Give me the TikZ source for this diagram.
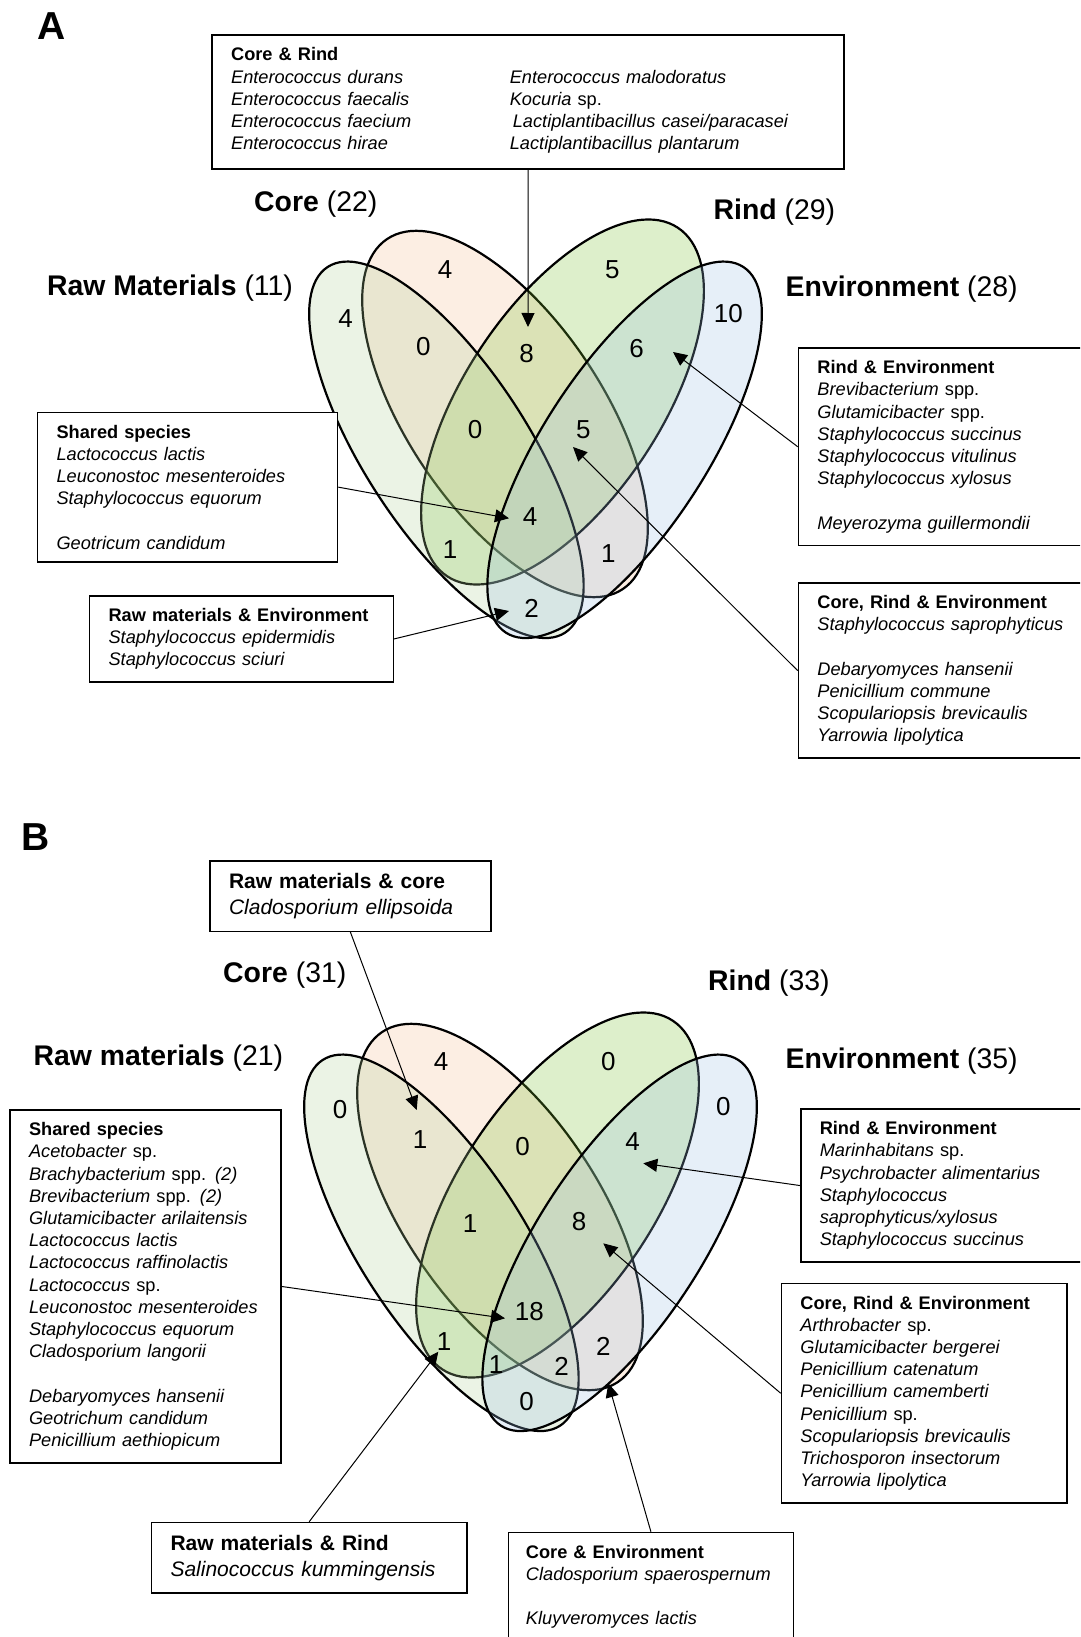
\documentclass[tikz,border=0pt]{standalone}
\usepackage{fontspec}
\setmainfont{Liberation Sans}
\usetikzlibrary{arrows.meta}

\definecolor{rawfill}{RGB}{175,207,151}
\definecolor{corefill}{RGB}{243,187,143}
\definecolor{rindfill}{RGB}{119,191,47}
\definecolor{envfill}{RGB}{155,191,227}

\newcommand{\vennbox}{\fontsize{18.2}{22.2}\selectfont}
\newcommand{\vennbigbox}{\fontsize{21}{26}\selectfont}
\newcommand{\vennlab}{\fontsize{28.4}{34}\selectfont}
\newcommand{\vennnum}{\fontsize{26}{30}\selectfont}
\newcommand{\vennpanel}{\fontsize{39}{44}\selectfont\bfseries}

\tikzset{
  venn/.style={draw=black, line width=2.2pt, fill opacity=0.25},
  listbox/.style={draw, line width=1.5pt, fill=white, align=left, anchor=north west,
    inner xsep=19pt, inner ysep=12.5pt, font=\vennbox},
  regnum/.style={font=\vennnum, inner sep=1pt},
  setname/.style={font=\vennlab, anchor=base west, inner sep=0pt},
  panel/.style={font=\vennpanel, anchor=base, inner sep=0pt},
  pointer/.style={line width=1pt, -{Triangle[length=14pt,width=13pt]}},
}

\begin{document}
\begin{tikzpicture}[x=1pt,y=-1pt]
    \useasboundingbox (0,0) rectangle (1080,1637);
    \clip (0,0) rectangle (1080,1637);

    % ---------- panel A ----------
    \node[panel] (lblA) at (52,40) {A};

    \draw[venn, fill=corefill, rotate around={-56:(505,414)}] (505,414) ellipse (211 and 97);
    \draw[venn, fill=rindfill, rotate around={56.5:(562.5,402)}] (562.5,402) ellipse (209 and 98);
    \draw[venn, fill=rawfill, rotate around={-57:(446.4,449.8)}] (446.4,449.8) ellipse (218 and 82);
    \draw[venn, fill=envfill, rotate around={57:(624.6,449.8)}] (624.6,449.8) ellipse (218 and 82);

    \node[setname] (coreA) at (254,212) {\textbf{Core} (22)};
    \node[setname] (rindA) at (713.4,220) {\textbf{Rind} (29)};
    \node[setname] (rawA) at (47,295) {\textbf{Raw Materials} (11)};
    \node[setname] (envA) at (785.5,296) {\textbf{Environment} (28)};

    \node[regnum] (a-r) at (345.7,318.3) {4};
    \node[regnum] (a-c) at (445,270) {4};
    \node[regnum] (a-i) at (612.3,270) {5};
    \node[regnum] (a-e) at (728.3,313.3) {10};
    \node[regnum] (a-rc) at (423.3,346.7) {0};
    \node[regnum] (a-ci) at (526.7,353.3) {8};
    \node[regnum] (a-ie) at (636.7,348.3) {6};
    \node[regnum] (a-rci) at (475,430) {0};
    \node[regnum] (a-cie) at (583.3,430) {5};
    \node[regnum] (a-all) at (530,516.7) {4};
    \node[regnum] (a-ri) at (450,550) {1};
    \node[regnum] (a-ce) at (608.3,553.3) {1};
    \node[regnum] (a-re) at (531.7,608.3) {2};

    \node[listbox, text width=594pt] (crA) at (211.4,34.5) {\textbf{Core \& Rind}\\
      \begin{tabular}[t]{@{}p{278.7pt}@{}l@{}}
      \textit{Enterococcus durans} & \textit{Enterococcus malodoratus}\\
      \textit{Enterococcus faecalis} & \textit{Kocuria} sp.\\
      \textit{Enterococcus faecium} & \hspace{3pt}\textit{Lactiplantibacillus casei/paracasei}\\
      \textit{Enterococcus hirae} & \textit{Lactiplantibacillus plantarum}
      \end{tabular}};
    \node[listbox, text width=262pt] (shA) at (36.8,411.7) {\textbf{Shared species}\\
      \textit{Lactococcus lactis}\\ \textit{Leuconostoc mesenteroides}\\
      \textit{Staphylococcus equorum}\\[22.2pt] \textit{Geotricum candidum}};
    \node[listbox, text width=265.8pt] (reA) at (88.8,595) {\textbf{Raw materials \& Environment}\\
      \textit{Staphylococcus epidermidis}\\ \textit{Staphylococcus sciuri}};
    \node[listbox, text width=290pt] (rindenvA) at (797.7,347.3) {\textbf{Rind \& Environment}\\
      \textit{Brevibacterium} spp.\\ \textit{Glutamicibacter} spp.\\
      \textit{Staphylococcus succinus}\\ \textit{Staphylococcus vitulinus}\\
      \textit{Staphylococcus xylosus}\\[22.2pt] \textit{Meyerozyma guillermondii}};
    \node[listbox, text width=290pt] (crenvA) at (797.7,582.3) {\textbf{Core, Rind \& Environment}\\
      \textit{Staphylococcus saprophyticus}\\[22.2pt]
      \textit{Debaryomyces hansenii}\\ \textit{Penicillium commune}\\
      \textit{Scopulariopsis brevicaulis}\\ \textit{Yarrowia lipolytica}};

    \coordinate (tipA8) at (528,327);
    \coordinate (tipA6) at (673,352);
    \coordinate (tipA5) at (573,447);
    \coordinate (tipA4) at (509,518.3);
    \coordinate (tipA2) at (509,611);
    \draw[pointer] (crA.south) -- (tipA8);
    \draw[pointer] (rindenvA.west) -- (tipA6);
    \draw[pointer] (crenvA.west) -- (tipA5);
    \draw[pointer] (shA.east) -- (tipA4);
    \draw[pointer] (reA.east) -- (tipA2);

    % ---------- panel B ----------
    \node[panel] (lblB) at (35.5,850) {B};

    \begin{scope}[shift={(-5,793)}]
    \draw[venn, fill=corefill, rotate around={-56:(505,414)}] (505,414) ellipse (211 and 97);
    \draw[venn, fill=rindfill, rotate around={56.5:(562.5,402)}] (562.5,402) ellipse (209 and 98);
    \draw[venn, fill=rawfill, rotate around={-57:(446.4,449.8)}] (446.4,449.8) ellipse (218 and 82);
    \draw[venn, fill=envfill, rotate around={57:(624.6,449.8)}] (624.6,449.8) ellipse (218 and 82);
    \end{scope}

    \node[setname] (coreB) at (223,982) {\textbf{Core} (31)};
    \node[setname] (rindB) at (708,990) {\textbf{Rind} (33)};
    \node[setname] (rawB) at (33.5,1065) {\textbf{Raw materials} (21)};
    \node[setname] (envB) at (785.5,1068) {\textbf{Environment} (35)};

    \node[regnum] (b-r) at (340,1110) {0};
    \node[regnum] (b-c) at (441,1061.7) {4};
    \node[regnum] (b-i) at (608.3,1061.7) {0};
    \node[regnum] (b-e) at (723.3,1106.7) {0};
    \node[regnum] (b-rc) at (420,1140) {1};
    \node[regnum] (b-ci) at (522.7,1146.7) {0};
    \node[regnum] (b-ie) at (632.7,1141.7) {4};
    \node[regnum] (b-rci) at (470,1223.3) {1};
    \node[regnum] (b-cie) at (579,1221.7) {8};
    \node[regnum] (b-all) at (529.3,1311.7) {18};
    \node[regnum] (b-ri) at (444,1341.7) {1};
    \node[regnum] (b-rie) at (496,1365) {1};
    \node[regnum] (b-rce) at (561.7,1366.7) {2};
    \node[regnum] (b-ce) at (603.3,1346.7) {2};
    \node[regnum] (b-re) at (526.7,1401.7) {0};

    \node[listbox, font=\vennbigbox, text width=242.7pt] (rcB) at (209.3,860) {\textbf{Raw materials \& core}\\
      \textit{Cladosporium ellipsoida}};
    \node[listbox, text width=232.7pt] (shB) at (9.3,1109.3) {\textbf{Shared species}\\
      \textit{Acetobacter} sp.\\ \textit{Brachybacterium} spp. \textit{(2)}\\
      \textit{Brevibacterium} spp. \textit{(2)}\\ \textit{Glutamicibacter arilaitensis}\\
      \textit{Lactococcus lactis}\\ \textit{Lactococcus raffinolactis}\\
      \textit{Lactococcus} sp.\\ \textit{Leuconostoc mesenteroides}\\
      \textit{Staphylococcus equorum}\\ \textit{Cladosporium langorii}\\[22.2pt]
      \textit{Debaryomyces hansenii}\\ \textit{Geotrichum candidum}\\
      \textit{Penicillium aethiopicum}};
    \node[listbox, text width=290pt] (rindenvB) at (800,1108.3) {\textbf{Rind \& Environment}\\
      \textit{Marinhabitans} sp.\\ \textit{Psychrobacter alimentarius}\\
      \textit{Staphylococcus}\\ \textit{saprophyticus/xylosus}\\
      \textit{Staphylococcus succinus}};
    \node[listbox, text width=247.3pt] (crenvB) at (780.7,1282.7) {\textbf{Core, Rind \& Environment}\\
      \textit{Arthrobacter} sp.\\ \textit{Glutamicibacter bergerei}\\
      \textit{Penicillium catenatum}\\ \textit{Penicillium camemberti}\\
      \textit{Penicillium} sp.\\ \textit{Scopulariopsis brevicaulis}\\
      \textit{Trichosporon insectorum}\\ \textit{Yarrowia lipolytica}};
    \node[listbox, font=\vennbigbox, text width=277.3pt] (rrB) at (150.8,1521.7) {\textbf{Raw materials \& Rind}\\
      \textit{Salinococcus kummingensis}};
    \node[listbox, inner xsep=17.5pt, text width=249.9pt] (cenvB) at (507.7,1531.7) {\textbf{Core \& Environment}\\
      \textit{Cladosporium spaerospernum}\\[22.2pt] \textit{Kluyveromyces lactis}};

    \coordinate (tipB1) at (416.7,1110);
    \coordinate (tipB18) at (505,1318.3);
    \coordinate (tipB4) at (643.3,1163.3);
    \coordinate (tipB8) at (603.3,1243.3);
    \coordinate (tipBri) at (438.3,1351.7);
    \coordinate (tipBce) at (608.3,1383.3);
    \draw[pointer] (rcB.south) -- (tipB1);
    \draw[pointer] (shB.east) -- (tipB18);
    \draw[pointer] (rindenvB.west) -- (tipB4);
    \draw[pointer] (crenvB.west) -- (tipB8);
    \draw[pointer] (rrB.north) -- (tipBri);
    \draw[pointer] (cenvB.north) -- (tipBce);
\end{tikzpicture}
\end{document}
